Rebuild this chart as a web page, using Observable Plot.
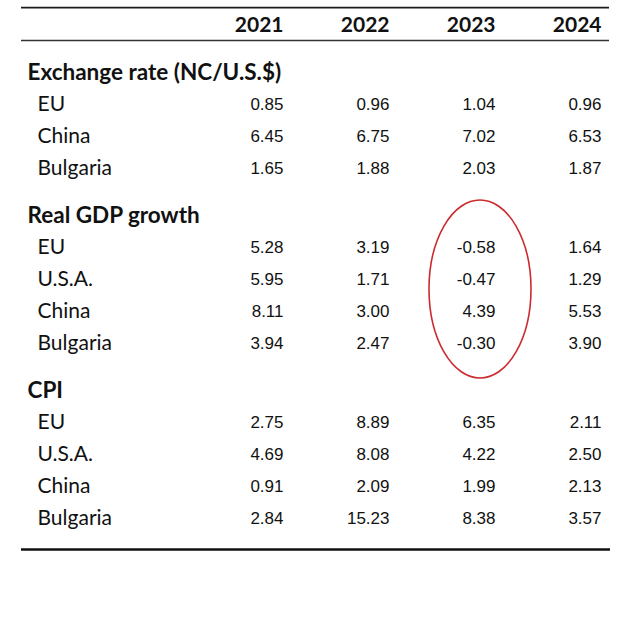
<!DOCTYPE html>
<html>
<head>
<meta charset="utf-8">
<script src="https://cdn.jsdelivr.net/npm/d3@7"></script>
<script src="https://cdn.jsdelivr.net/npm/@observablehq/plot@0.6"></script>
<style>
  html, body { margin: 0; padding: 0; background: #fff; }
  #chart svg { display: block; }
</style>
</head>
<body>
<div id="chart"></div>
<script>
const years = ["2021", "2022", "2023", "2024"];
const sections = ["Exchange rate (NC/U.S.$)", "Real GDP growth", "CPI"];

const exchangeCountries = ["EU", "China", "Bulgaria"];
const exchangeValues = [
  [0.85, 0.96, 1.04, 0.96],
  [6.45, 6.75, 7.02, 6.53],
  [1.65, 1.88, 2.03, 1.87]
];

const gdpCountries = ["EU", "U.S.A.", "China", "Bulgaria"];
const gdpValues = [
  [5.28, 3.19, -0.58, 1.64],
  [5.95, 1.71, -0.47, 1.29],
  [8.11, 3.00, 4.39, 5.53],
  [3.94, 2.47, -0.30, 3.90]
];

const cpiCountries = ["EU", "U.S.A.", "China", "Bulgaria"];
const cpiValues = [
  [2.75, 8.89, 6.35, 2.11],
  [4.69, 8.08, 4.22, 2.50],
  [0.91, 2.09, 1.99, 2.13],
  [2.84, 15.23, 8.38, 3.57]
];

const highlightSection = "Real GDP growth";
const highlightYear = "2023";

// Build the table rows (layout position = row index + extra gap before each section)
const blocks = [
  [sections[0], exchangeCountries, exchangeValues],
  [sections[1], gdpCountries, gdpValues],
  [sections[2], cpiCountries, cpiValues]
];
const GAP = 15 / 32;
const sectionRows = [], countryRows = [], cells = [];
let idx = 1, s = 0;
for (const [title, countries, values] of blocks) {
  s++;
  sectionRows.push({label: title, pos: idx + GAP * s});
  idx++;
  countries.forEach((c, i) => {
    const pos = idx + GAP * s;
    countryRows.push({label: c, pos, section: title});
    years.forEach((y, j) => cells.push({section: title, country: c, year: y, value: values[i][j], pos}));
    idx++;
  });
}
const lastPos = countryRows[countryRows.length - 1].pos;
const topRule = -0.56, headRule = 0.47, bottomRule = lastPos + 0.97;

const hlRows = countryRows.filter(d => d.section === highlightSection);

const ellipseMark = (index, scales) => {
  const x = scales.x, y = scales.y;
  const cx = x(highlightYear) - 15;
  const cy = (y(hlRows[0].pos) + y(hlRows[hlRows.length - 1].pos)) / 2 - 6;
  const el = document.createElementNS("http://www.w3.org/2000/svg", "ellipse");
  el.setAttribute("cx", cx);
  el.setAttribute("cy", cy);
  el.setAttribute("rx", 51);
  el.setAttribute("ry", 89);
  el.setAttribute("fill", "none");
  el.setAttribute("stroke", "#cc2a2e");
  el.setAttribute("stroke-width", 1.6);
  return el;
};

const labelFont = "Lato, 'Open Sans', sans-serif";
const numFont = "'Liberation Sans', Arial, sans-serif";

const chart = Plot.plot({
  width: 630,
  height: 633,
  margin: 0,
  style: {background: "#fff", color: "#111"},
  x: {type: "point", domain: years, range: [282, 602], padding: 0, axis: null},
  y: {type: "linear", domain: [0, 1], range: [25, 57], axis: null},
  marks: [
    Plot.ruleY([topRule], {y: d => d, insetLeft: 21, insetRight: 21, stroke: "#1a1a1a", strokeWidth: 1.8}),
    Plot.ruleY([headRule], {y: d => d, insetLeft: 21, insetRight: 21, stroke: "#333", strokeWidth: 1.6}),
    Plot.ruleY([bottomRule], {y: d => d, insetLeft: 21, insetRight: 20, stroke: "#111", strokeWidth: 2.4}),
    Plot.text(years, {x: d => d, y: () => 0, text: d => d, textAnchor: "end",
      fontFamily: labelFont, fontWeight: "bold", fontSize: 21, fill: "#111"}),
    Plot.text(sectionRows, {y: "pos", text: "label", frameAnchor: "left", dx: 27, textAnchor: "start",
      fontFamily: labelFont, fontWeight: "bold", fontSize: 22.5, fill: "#111"}),
    Plot.text(countryRows, {y: "pos", text: "label", frameAnchor: "left", dx: 37, textAnchor: "start",
      fontFamily: labelFont, fontSize: 21, fill: "#111"}),
    Plot.text(cells, {x: "year", y: "pos", text: d => d.value.toFixed(2), textAnchor: "end",
      fontFamily: numFont, fontSize: 17, fill: "#111"}),
    ellipseMark
  ]
});
document.getElementById("chart").appendChild(chart);
</script>
</body>
</html>
